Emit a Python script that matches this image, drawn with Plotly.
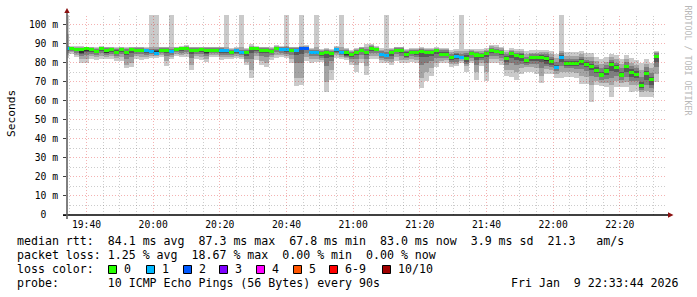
import math
from datetime import datetime, timedelta
import plotly.graph_objects as go

# ------------------------------------------------------------------ data
step_seconds = 90
first_bin_start = datetime(2026, 1, 9, 19, 33, 15)
range_start = datetime(2026, 1, 9, 19, 34, 9)
range_end = datetime(2026, 1, 9, 22, 34, 9)

# 10 sorted ping round-trip times (ms) per 90 s step, lowest (p1) .. highest (p10)
rtt_p1 = [82.5, 84.5, 83, 80, 80, 82, 81.5, 82, 82, 82,
          81, 81, 77, 77.5, 82, 81.5, 82, 82.5, 82.5, 83,
          78, 82, 83.5, 82.7, 83, 76, 82, 81.4, 80.5, 83,
          83, 81.5, 82, 82, 82.5, 82, 78.7, 71.7, 81.5, 78.7,
          77.6, 81.4, 82.5, 83, 82.5, 80, 67.8, 68.3, 81, 80,
          80.5, 80.5, 64.8, 70.8, 82.5, 82, 81.4, 78.7, 75, 80,
          73.5, 82, 82, 80, 80, 78.7, 81, 79.6, 80, 80.5,
          80, 66.5, 70.4, 73, 77.5, 79.6, 80, 77.5, 78, 80,
          75, 79.6, 70.8, 78, 70.1, 80, 80, 79, 73, 72.2,
          71, 74, 75, 75, 74, 69.2, 74, 74, 72, 71.9,
          72.6, 72.6, 72, 69, 69, 59.5, 68, 67.5, 67, 62,
          67, 67, 67, 64.8, 65, 62, 62, 62, 70]
rtt_p2 = [84, 85.5, 84, 82, 82, 83.5, 83, 83.5, 83, 83.5,
          82.5, 83, 79, 80, 83.5, 83, 83, 83.5, 83.5, 84,
          81, 83, 84.5, 84, 84.5, 79, 83.5, 83, 82, 84,
          84, 83, 83, 83, 83.5, 83, 80.5, 76, 83.5, 81,
          80, 83, 84, 84, 83.5, 82, 72, 72, 83, 82,
          82, 81.5, 70, 76, 84, 83, 82.5, 80.5, 79, 82,
          78, 83.5, 83.5, 81.5, 81, 80.5, 83, 81.5, 81.5, 82,
          81.5, 72, 75, 77, 80, 81, 81.5, 79.5, 79.5, 81,
          78, 81, 75, 80, 75, 82, 82, 81, 76, 76,
          75, 77, 77.5, 77.5, 77, 73, 76.5, 76, 74, 75,
          75, 75, 74.5, 73, 72.5, 68, 70.5, 69.5, 69.5, 68,
          70.5, 69.5, 70, 68, 68, 64.5, 65, 64.5, 74]
rtt_p3 = [85, 86, 85, 83.5, 84, 84.5, 84, 85, 84, 84.5,
          83.5, 84.5, 82, 83, 84.5, 84.5, 84, 84.5, 84.5, 85,
          83.5, 84, 85.5, 85, 85.5, 82.5, 84.5, 84.5, 83.5, 85,
          85, 84, 84, 84, 84.5, 84, 82, 82, 85, 83.5,
          83, 84, 85.5, 85, 84.5, 84, 80, 80, 85, 83.5,
          83.5, 82.5, 78, 81, 85, 84, 83, 82, 82, 84,
          82, 85, 85, 82.5, 82, 82, 84.5, 83.5, 82.5, 83.5,
          83, 79, 80, 81, 82.5, 82.5, 82.5, 80.5, 80.5, 81.8,
          79.5, 82.5, 79, 81.5, 80, 83.5, 83.5, 82.5, 78.5, 80,
          79, 79.5, 79, 79.5, 79.5, 77, 78, 77.5, 75.5, 78,
          77, 77, 76.5, 76.5, 75.5, 73, 72.5, 71, 71.5, 72,
          73, 71, 72.5, 70.5, 70.5, 65.8, 68, 66.5, 77.5]
rtt_p4 = [86, 86.5, 86, 84.5, 85.5, 85.5, 85, 86, 84.8, 85.5,
          84.5, 85.5, 84, 85, 85.5, 85.5, 85, 85.2, 85, 85.7,
          85, 85, 86.2, 86, 86.5, 84.5, 85.5, 85.5, 84.5, 85.8,
          85.8, 85.2, 85, 84.5, 85.3, 84.6, 83.5, 85, 86, 85,
          85, 85, 86.5, 86, 85.5, 85.5, 84, 84.5, 86.5, 84.5,
          84.5, 83.5, 82.5, 83, 85.8, 84.7, 83.5, 83, 84, 85.5,
          84, 86.3, 86, 83.5, 82.8, 83.5, 85.8, 85, 83, 84.5,
          84.2, 83, 83, 83.5, 84.5, 83.3, 83.3, 81.5, 81.8, 82.2,
          80.5, 83.8, 81.5, 82.5, 83, 85, 84.8, 84, 80.5, 82.5,
          81.5, 81, 80, 81, 81, 80.5, 79.5, 78.8, 76.5, 80.5,
          78.2, 78.2, 78, 78.5, 77.5, 76, 74.3, 72.3, 73.5, 75.5,
          75.3, 72.3, 75, 72.5, 72, 66.8, 71, 68.5, 80.5]
rtt_p5 = [87, 87, 86.7, 85.5, 86.5, 86.3, 85.5, 86.8, 85.5, 86.3,
          85.2, 86.3, 85, 86.5, 86.2, 86.2, 85.7, 85.7, 85.3, 86.2,
          86.3, 85.5, 86.7, 87, 87.2, 86, 86.3, 86.5, 85.5, 86.3,
          86.3, 86.2, 85.9, 84.9, 86, 85.2, 84.8, 86.8, 86.8, 86.2,
          86.3, 85.5, 87, 86.6, 86.4, 86.3, 86.2, 87, 87.1, 85.2,
          85.2, 84.3, 85, 84.5, 86.4, 85.2, 84.5, 83.9, 85.2, 86.2,
          85, 87, 86.5, 84.2, 83.2, 84.9, 86.3, 86.3, 84, 85.2,
          84.9, 85.5, 84.9, 85.2, 86, 84, 84, 82.3, 82.8, 82.5,
          81.7, 84.7, 83.6, 83.2, 84.7, 86, 85.7, 85, 81.9, 84.3,
          83.2, 82.5, 80.7, 82.2, 82.2, 82.5, 81, 80.2, 77.2, 82.3,
          79.2, 79.2, 79.1, 80.2, 78.7, 77.9, 75.7, 73.2, 75.3, 78.7,
          76.9, 73.2, 77.5, 74.7, 73.7, 67.9, 74.1, 70.7, 82.7]
rtt_p6 = [87.6, 87.4, 87.2, 86.5, 87.2, 87, 86, 87.3, 86.5, 87,
          85.8, 87, 85.6, 87.2, 86.8, 86.8, 86.3, 86.3, 85.8, 86.8,
          86.9, 86, 87.2, 87.5, 87.7, 86.8, 86.9, 87.1, 86.5, 86.9,
          86.9, 86.9, 86.5, 85.5, 86.6, 85.8, 85.5, 87.5, 87.5, 86.9,
          86.9, 86.1, 87.6, 87.2, 87, 86.9, 86.9, 87.6, 87.7, 85.8,
          85.8, 84.9, 85.8, 85.3, 87, 85.8, 85.5, 84.5, 85.8, 86.8,
          85.6, 87.6, 87.1, 84.8, 83.8, 85.5, 86.9, 86.9, 85, 85.8,
          85.5, 86.1, 85.5, 85.8, 86.6, 85, 85, 82.9, 83.6, 83,
          82.9, 85.3, 84.4, 83.8, 85.3, 86.6, 86.3, 85.6, 82.5, 84.9,
          83.8, 83.5, 81.3, 82.8, 82.8, 83.1, 82.5, 80.8, 77.8, 82.9,
          79.8, 79.8, 79.7, 80.8, 79.3, 78.5, 76.3, 73.8, 75.9, 79.3,
          77.5, 73.8, 78.1, 75.3, 74.3, 68.5, 74.7, 71.3, 83.3]
rtt_p7 = [88, 87.8, 87.5, 87, 87.5, 87.3, 86.5, 87.6, 87, 87.3,
          86.5, 87.3, 86.3, 87.5, 87.2, 87.2, 86.8, 86.8, 86.5, 87.2,
          87.3, 86.5, 87.5, 87.8, 88, 87.2, 87.3, 87.5, 87, 87.3,
          87.3, 87.3, 87, 86, 87, 86.3, 86, 87.8, 87.8, 87.3,
          87.3, 86.6, 88, 87.6, 87.5, 87.3, 87.3, 88, 88, 86.3,
          86.3, 85.5, 86.3, 85.8, 87.4, 86.3, 86, 85, 86.3, 87.2,
          86.2, 88, 87.5, 85.3, 84.5, 86, 87.3, 87.3, 85.5, 86.3,
          86, 86.6, 86, 86.3, 87, 85.8, 85.8, 83.5, 84.3, 83.5,
          84, 85.8, 85, 84.5, 85.8, 87, 86.8, 86.2, 83.3, 85.4,
          84.5, 84.3, 82, 83.5, 83.5, 83.8, 83.5, 81.8, 79, 83.8,
          80.8, 80.8, 80.8, 81.8, 80.3, 79.5, 77.5, 75, 77, 80.3,
          78.7, 75, 79, 76.5, 75.5, 70, 75.8, 72.5, 84]
rtt_p8 = [88.5, 88, 87.8, 87.5, 87.8, 87.6, 87, 87.9, 87.5, 87.6,
          87, 87.6, 87, 87.8, 87.6, 87.6, 87.2, 87.2, 87, 87.6,
          87.6, 87, 87.8, 88, 88.3, 87.6, 87.6, 87.8, 87.5, 87.6,
          87.6, 87.6, 87.3, 86.5, 87.3, 86.8, 86.5, 88.1, 88.1, 87.6,
          87.6, 87, 88.3, 88, 88, 87.6, 87.6, 88.3, 88.3, 86.8,
          86.8, 86, 86.8, 86.3, 87.8, 86.8, 86.5, 85.5, 86.8, 87.6,
          87, 88.5, 87.8, 86, 85.5, 86.5, 87.6, 87.6, 86, 86.8,
          86.5, 87, 86.5, 86.8, 87.4, 86.4, 86.4, 84.5, 85, 84.5,
          85, 86.3, 85.6, 85.3, 86.3, 87.5, 87.3, 86.8, 84.3, 86,
          85.3, 85, 83, 84.3, 84.3, 84.5, 84.5, 83, 80.5, 84.8,
          82, 82, 82, 83, 81.5, 81, 79, 77, 78.5, 81.5,
          80, 77, 80.5, 78, 77, 72.5, 77.5, 74.5, 84.8]
rtt_p9 = [95, 88.3, 88.2, 88, 88, 88, 87.5, 88.2, 88, 88,
          87.5, 88, 87.5, 88, 88, 88, 87.6, 88, 88, 88,
          88, 88, 88.1, 88.3, 88.6, 88, 88, 88.1, 88, 88,
          88, 88, 88, 87, 87.7, 88, 87, 88.6, 88.4, 88,
          88, 87.5, 88.6, 88.4, 88.5, 88, 88, 88.7, 88.6, 87.3,
          88, 86.5, 87.3, 86.8, 88.2, 88, 87, 86, 87.3, 88,
          88, 89, 88.2, 86.8, 87, 87, 88, 88, 86.5, 87.3,
          87, 87.5, 87, 87.3, 87.8, 87, 87, 85.5, 86, 86,
          86, 86.8, 86.3, 86.2, 86.8, 88.5, 88, 87.5, 85.5, 86.7,
          86.2, 86, 84.5, 85.3, 85.3, 85.5, 85.5, 84.5, 82.5, 86,
          83.5, 83.5, 83.5, 84.5, 83, 83, 81, 79.5, 80.5, 83,
          82, 79.5, 82, 80, 79, 76, 79.5, 77, 85.5]
rtt_p10 = [108, 88.5, 88.5, 88.5, 88.3, 88.3, 88, 88.5, 88.3, 88.3,
           88, 88.3, 88, 88.3, 88.3, 88.3, 88, 108, 108, 88.3,
           88.3, 108, 88.4, 88.6, 89, 88.3, 88.3, 88.4, 88.3, 88.3,
           88.3, 88.3, 108, 87.5, 88, 108, 87.5, 90, 88.7, 88.3,
           88.3, 88, 89, 88.8, 108, 88.3, 88.4, 108, 89, 87.8,
           108, 87, 87.8, 87.3, 88.5, 108, 87.5, 86.5, 87.8, 88.3,
           90, 90, 88.5, 87.5, 108, 87.5, 88.3, 88.3, 87, 87.8,
           87.5, 88, 87.5, 87.8, 88.2, 87.5, 87.5, 86.5, 87, 108,
           87, 87.3, 87, 87, 87.5, 89.5, 89, 88.3, 86.5, 87.5,
           87, 87, 86, 86.5, 86.5, 86.5, 86.5, 86, 84.5, 108,
           85.7, 85.7, 85.5, 86, 85, 85, 83, 82, 83, 84.5,
           84, 82, 84, 82.5, 81.5, 80, 82, 80, 86.1]
rtt_median = [87.5, 87.3, 87, 86.8, 87.3, 86.8, 85.8, 87.2, 86.5, 86.8,
              85.5, 86.8, 85.3, 87, 86.5, 86.5, 86.2, 86, 85, 86.5,
              86.6, 85.6, 86.9, 87.3, 87.5, 86.6, 86.6, 86.9, 86.3, 86.6,
              86.6, 86.6, 86.3, 85.2, 86.3, 85.5, 85.2, 87.3, 87.3, 86.6,
              86.6, 85.8, 87.3, 86.9, 86.7, 86.6, 86.6, 87.3, 87.4, 85.5,
              85.5, 84.6, 85.5, 85, 86.7, 85.5, 85.2, 84.2, 85.5, 86.5,
              85.3, 87.3, 86.8, 84.5, 83.5, 85.2, 86.6, 86.6, 84.5, 85.5,
              85.2, 85.8, 85.2, 85.5, 86.3, 84.5, 84.5, 82.6, 83.2, 82.6,
              82.3, 85, 84, 83.5, 85, 86.3, 86, 85.3, 82.2, 84.6,
              83.5, 83, 81, 82.5, 82.5, 82.8, 82, 80.5, 77.5, 82.6,
              79.5, 79.5, 79.4, 80.5, 79, 78.2, 76, 73.5, 75.6, 79,
              77.2, 73.5, 77.8, 75, 74, 68.2, 74.4, 71, 83]
loss_count = [1, 0, 0, 0, 0, 0, 0, 0, 0, 0,
              0, 0, 0, 0, 0, 0, 1, 1, 1, 0,
              0, 1, 0, 0, 0, 0, 0, 0, 0, 0,
              0, 1, 1, 0, 1, 1, 0, 0, 0, 0,
              0, 0, 0, 1, 1, 0, 1, 2, 2, 1,
              1, 0, 0, 0, 1, 1, 0, 0, 0, 0,
              0, 0, 0, 1, 1, 0, 0, 0, 0, 0,
              0, 0, 0, 0, 0, 0, 0, 0, 1, 1,
              0, 0, 0, 0, 0, 0, 0, 0, 0, 0,
              0, 0, 0, 0, 0, 0, 0, 0, 1, 1,
              0, 0, 0, 0, 0, 0, 0, 0, 0, 0,
              0, 0, 0, 0, 0, 0, 0, 0, 0]

loss_labels = ["0", "1", "2", "3", "4", "5", "6-9", "10/10"]
loss_colors = ["#26ff00", "#00b8ff", "#0059ff", "#7e00ff",
               "#ff00ff", "#ff5500", "#ff0000", "#a00000"]
smoke_colors = ["#cacaca", "#a4a4a4", "#7e7e7e", "#585858", "#323232"]

y_tick_values = [0, 10, 20, 30, 40, 50, 60, 70, 80, 90, 100]
y_tick_labels = ["0\u00a0\u00a0", "10 m", "20 m", "30 m", "40 m", "50 m",
                 "60 m", "70 m", "80 m", "90 m", "100 m"]

legend_line1 = "median rtt:  84.1 ms avg  87.3 ms max  67.8 ms min  83.0 ms now  3.9 ms sd  21.3   am/s"
legend_line2 = "packet loss: 1.25 % avg  18.67 % max  0.00 % min  0.00 % now"
legend_line3 = "loss color:"
legend_line4 = "probe:       10 ICMP Echo Pings (56 Bytes) every 90s"
legend_date = "Fri Jan  9 22:33:44 2026"
y_title = "Seconds"
watermark = "RRDTOOL / TOBI OETIKER"

# ------------------------------------------------------------------ geometry
L, R, T, B = 67, 667, 15, 215
W, H = 697, 297
MONO = "DejaVu Sans Mono"


def px_x(px):
    return (px - L) / (R - L)


def px_y(py):
    return (B - py) / (B - T)


def nb(s):
    return s.replace(" ", "\u00a0")


n = len(rtt_median)
centers = [first_bin_start + timedelta(seconds=step_seconds * i + step_seconds / 2) for i in range(n)]
xs = [c.strftime("%Y-%m-%d %H:%M:%S") for c in centers]

fig = go.Figure()

lows = [rtt_p1, rtt_p2, rtt_p3, rtt_p4, rtt_p5]
highs = [rtt_p10, rtt_p9, rtt_p8, rtt_p7, rtt_p6]
for lo, hi, col in zip(lows, highs, smoke_colors):
    fig.add_trace(go.Bar(
        x=xs, base=lo, y=[h - l for l, h in zip(lo, hi)],
        width=step_seconds * 1000, marker=dict(color=col, line=dict(width=0)),
        hoverinfo="skip"))


def loss_index(c):
    if c <= 5:
        return c
    if c < 10:
        return 6
    return 7


med_half = 0.8
fig.add_trace(go.Bar(
    x=xs, base=[m - med_half for m in rtt_median], y=[2 * med_half] * n,
    width=step_seconds * 1000,
    marker=dict(color=[loss_colors[loss_index(c)] for c in loss_count], line=dict(width=0)),
    hoverinfo="skip"))

shapes = []
# vertical grid (every 5 min, major every 20 min)
t = datetime(2026, 1, 9, 19, 35)
while t < range_end:
    px = L + (t - range_start).total_seconds() / ((range_end - range_start).total_seconds() / (R - L))
    pxs = math.floor(px) + 0.5
    major = (t.minute % 20 == 0)
    shapes.append(dict(type="line", xref="paper", yref="paper",
                       x0=px_x(pxs), x1=px_x(pxs), y0=0, y1=1, layer="above",
                       line=dict(color="rgba(220,0,0,0.30)" if major else "rgba(110,110,110,0.35)",
                                 width=1, dash="1px,2px")))
    t += timedelta(minutes=5)
# horizontal grid (every 5 ms, major every 10 ms)
for v in range(5, 105, 5):
    py = B - v * (B - T) / 105.0
    pys = math.floor(py) + 0.5
    major = (v % 10 == 0)
    shapes.append(dict(type="line", xref="paper", yref="paper",
                       x0=0, x1=1, y0=px_y(pys), y1=px_y(pys), layer="above",
                       line=dict(color="rgba(220,0,0,0.30)" if major else "rgba(110,110,110,0.35)",
                                 width=1, dash="1px,2px")))

# axes lines and arrows
shapes.append(dict(type="line", xref="paper", yref="paper", x0=px_x(63), x1=px_x(669),
                   y0=px_y(215), y1=px_y(215), layer="above", line=dict(color="#000000", width=1.6)))
shapes.append(dict(type="line", xref="paper", yref="paper", x0=px_x(67), x1=px_x(67),
                   y0=px_y(219), y1=px_y(12), layer="above", line=dict(color="#606060", width=1.6)))
shapes.append(dict(type="path", xref="paper", yref="paper", layer="above",
                   path="M {} {} L {} {} L {} {} Z".format(px_x(64.3), px_y(13), px_x(69.7), px_y(13), px_x(67), px_y(8)),
                   fillcolor="#8b1010", line=dict(width=0)))
shapes.append(dict(type="path", xref="paper", yref="paper", layer="above",
                   path="M {} {} L {} {} L {} {} Z".format(px_x(668), px_y(212.3), px_x(668), px_y(217.7), px_x(673.5), px_y(215)),
                   fillcolor="#8b1010", line=dict(width=0)))

annotations = []
legend_font = dict(family=MONO, size=11.6, color="#000000")
line_y = [241, 255, 269, 283]
for txt, py in zip([legend_line1, legend_line2, legend_line3, legend_line4], line_y):
    annotations.append(dict(text=nb(txt), xref="paper", yref="paper", x=px_x(15), y=px_y(py),
                            xanchor="left", yanchor="middle", showarrow=False, font=legend_font))
annotations.append(dict(text=nb(legend_date), xref="paper", yref="paper", x=px_x(681), y=px_y(283),
                        xanchor="right", yanchor="middle", showarrow=False, font=legend_font))

box_x = [108, 146, 183, 219, 256, 293, 329, 382]
for bx, lab, col in zip(box_x, loss_labels, loss_colors):
    shapes.append(dict(type="rect", xref="paper", yref="paper",
                       x0=px_x(bx + 0.5), x1=px_x(bx + 8.5), y0=px_y(265.5), y1=px_y(273.5),
                       fillcolor=col, line=dict(color="#000000", width=1)))
    annotations.append(dict(text=nb(lab), xref="paper", yref="paper", x=px_x(bx + 13.5), y=px_y(269),
                            xanchor="left", yanchor="middle", showarrow=False, font=legend_font))

annotations.append(dict(text=y_title, xref="paper", yref="paper", x=px_x(11), y=px_y(114),
                        xanchor="center", yanchor="middle", textangle=-90, showarrow=False,
                        font=dict(family=MONO, size=11.2, color="#000000")))
annotations.append(dict(text=nb(watermark), xref="paper", yref="paper", x=px_x(687.5), y=px_y(60),
                        xanchor="center", yanchor="middle", textangle=90, showarrow=False,
                        font=dict(family=MONO, size=8.3, color="#b8b8b8")))

fig.update_layout(
    width=W, height=H,
    margin=dict(l=L, r=W - R, t=T, b=H - B, pad=0),
    paper_bgcolor="#ffffff", plot_bgcolor="#ffffff",
    barmode="overlay", bargap=0, showlegend=False, hovermode=False,
    shapes=shapes, annotations=annotations,
    xaxis=dict(type="date", range=[range_start.strftime("%Y-%m-%d %H:%M:%S"),
                                   range_end.strftime("%Y-%m-%d %H:%M:%S")],
               showgrid=False, zeroline=False, showline=False,
               tickmode="linear", tick0="2026-01-09 19:40:00", dtick=20 * 60 * 1000,
               tickformat="%H:%M", ticks="", ticklabelstandoff=2,
               tickfont=dict(family=MONO, size=9.7, color="#000000")),
    yaxis=dict(range=[0, 105], showgrid=False, zeroline=False, showline=False,
               tickmode="array", tickvals=y_tick_values, ticktext=y_tick_labels,
               ticks="outside", ticklen=3, tickcolor="#404040", tickwidth=1,
               ticklabelstandoff=3,
               tickfont=dict(family=MONO, size=9.7, color="#000000")),
)

fig.write_html("out.html")
